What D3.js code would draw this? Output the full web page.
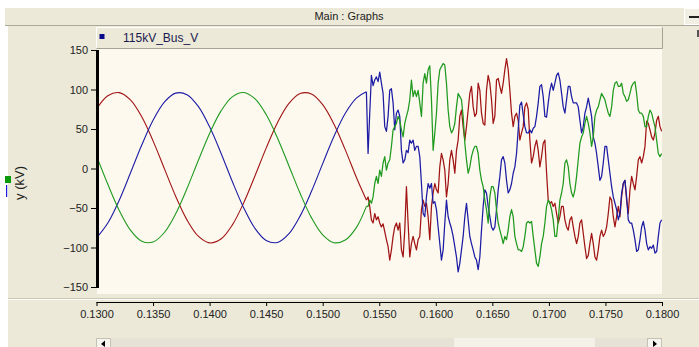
<!DOCTYPE html>
<html><head><meta charset="utf-8">
<script src="https://cdn.jsdelivr.net/npm/d3@7"></script>
<style>
html,body{margin:0;padding:0;background:#fff;overflow:hidden;}
svg{display:block;}
text{font-family:"Liberation Sans",Arial,sans-serif;}
</style></head><body>
<svg id="c" width="699" height="347"></svg>
<script>
// ---------- DATA ----------
const xTicks = [0.130,0.135,0.140,0.145,0.150,0.155,0.160,0.165,0.170,0.175,0.180];
const yTicks = [-150,-100,-50,0,50,100,150];
const seriesNames = ["Phase A","Phase B","Phase C"];
const legendLabel = "115kV_Bus_V";

// steady-state part, sampled every 1 ms from 0.130 s
const sineT0 = 0.130, sineDt = 0.001;
const sineRed   = [75.2,92.0,96.0,86.8,65.4,35.0,-0.2,-35.1,-65.0,-85.7,-94.2,-89.3,-71.7,-43.9,-9.8,25.8,58.0,82.1,94.9,94.4,80.9,56.1,23.6,-12.1];
const sineBlue  = [-87.9,-69.0,-40.4,-5.8,29.7,61.1,84.1,95.4,93.5,78.6,52.7,19.7,-16.1,-49.3,-75.6,-91.1,-93.6,-82.9,-60.3,-29.2,6.2,40.8,69.9,89.3];
const sineGreen = [15.8,-20.0,-52.7,-77.9,-92.0,-93.1,-81.0,-57.3,-25.4,10.1,44.4,72.6,90.7,96.2,88.4,68.3,38.7,3.9,-31.4,-62.2,-84.0,-93.9,-90.5,-74.2];

// disturbed part, read every ~0.1475 ms from 0.15386 s
const distT0 = 0.153864, distDt = 0.00014749;
const distBlue = [97,19,70,118,105,112,116,110,122,108,95,53,47,66,99,101,83,49,70,74,66,23,7,11,23,20,36,32,36,23,28,28,15,-19,-57,-61,-36,-19,-25,-19,-44,-42,-52,-74,-95,-116,-103,-69,-40,-61,-69,-76,-86,-99,-112,-131,-120,-103,-86,-61,-44,-65,-86,-95,-103,-112,-116,-128,-112,-78,-48,-27,-31,-48,-61,-74,-78,-74,-52,-27,-10,11,15,7,-15,-31,-27,-19,-6,2,19,49,80,84,68,53,45,45,49,45,51,53,66,83,104,106,91,66,65,83,99,108,99,108,118,121,112,95,78,70,87,104,104,91,83,83,83,78,61,45,53,70,78,89,78,66,40,32,19,2,-15,-10,7,28,28,11,-6,-23,-36,-44,-52,-65,-57,-31,-19,-15,-36,-65,-69,-69,-78,-90,-105,-103,-90,-74,-67,-78,-95,-103,-99,-101,-97,-107,-105,-86,-69,-65];
const distRed = [-40,-36,-48,-65,-69,-57,-65,-61,-69,-74,-70,-80,-90,-99,-116,-103,-86,-74,-69,-78,-69,-103,-112,-78,-23,-69,-112,-95,-86,-95,-103,-90,-86,-52,-40,-48,-44,-61,-90,-48,-31,-19,-27,-31,2,19,11,-2,-36,-19,11,23,11,-6,23,36,66,74,53,36,53,74,95,104,78,66,70,108,99,70,57,55,99,118,108,87,57,66,112,114,104,95,108,125,139,125,99,70,53,66,70,61,36,45,53,78,83,75,36,7,15,28,36,23,2,15,32,36,-5,-40,-44,-42,-48,-44,-57,-69,-61,-48,-48,-65,-74,-78,-65,-61,-74,-86,-95,-86,-69,-65,-82,-99,-114,-110,-95,-82,-95,-112,-116,-103,-86,-78,-86,-82,-74,-57,-36,-40,-61,-74,-61,-48,-61,-36,-19,-15,-40,-57,-27,-10,-19,-27,-10,11,15,7,15,28,60,57,49,40,36,45,61,66,53,47];
const distGreen = [-48,-48,-40,-44,-36,-19,-10,-19,-2,-10,7,15,-2,7,11,28,49,53,57,66,61,49,40,57,66,74,87,112,91,99,91,99,83,66,108,120,108,125,130,87,23,45,70,108,125,129,133,131,108,74,53,45,49,57,78,95,91,87,66,32,11,-6,2,15,23,28,28,19,-2,-15,-23,-40,-52,-69,-36,-23,-23,-31,-52,-69,-78,-86,-95,-86,-90,-78,-61,-52,-61,-86,-95,-103,-103,-105,-99,-86,-69,-67,-69,-67,-86,-103,-120,-124,-112,-95,-86,-69,-48,-40,-44,-52,-65,-86,-86,-65,-40,-31,-19,7,11,2,-19,-31,-36,-27,-10,11,32,40,45,57,66,57,45,28,40,66,74,78,87,95,91,87,78,70,66,78,99,108,110,104,104,108,95,91,85,87,95,104,108,110,95,74,70,70,66,53,53,66,74,70,61,53,36,19,15,19];

const colors = ["#a01414","#1c1ca4","#1f9a1f"];

// ---------- BUILD ----------
function build(sine, dist){
  const smooth = sine.map((v,i)=>({t: sineT0 + i*sineDt, v}));
  smooth.push({t: distT0, v: dist[0]});
  const rough = dist.map((v,i)=>({t: distT0 + i*distDt, v}));
  return {smooth, rough};
}
const series = [build(sineRed,distRed), build(sineBlue,distBlue), build(sineGreen,distGreen)];

const svg = d3.select("#c");
const BEIGE = "#ece9d8";

// window frame
svg.append("rect").attr("x",0).attr("y",0).attr("width",699).attr("height",347).attr("fill","#fff");
svg.append("rect").attr("x",5).attr("y",8).attr("width",694).attr("height",18).attr("fill",BEIGE);
svg.append("line").attr("x1",5).attr("x2",699).attr("y1",25.5).attr("y2",25.5).attr("stroke","#aca899");
svg.append("rect").attr("x",8).attr("y",26).attr("width",691).attr("height",321).attr("fill",BEIGE);
svg.append("text").attr("x",349).attr("y",20).attr("text-anchor","middle").attr("font-size",11).attr("fill","#222").text("Main : Graphs");
// minimise button
svg.append("rect").attr("x",684.5).attr("y",8.5).attr("width",16).attr("height",16).attr("fill","#f1efe4").attr("stroke","#fff");
svg.append("rect").attr("x",689).attr("y",16).attr("width",10).attr("height",2).attr("fill","#222");
svg.append("rect").attr("x",697).attr("y",30).attr("width",3).attr("height",7).attr("fill","#555");

const x = d3.scaleLinear().domain([0.13,0.18]).range([96.5,662]);
const y = d3.scaleLinear().domain([-150,150]).range([287,50]);

// plot background
svg.append("rect").attr("x",97).attr("y",48).attr("width",565).attr("height",246).attr("fill","#fdf9ef");

// legend bar
const lg = svg.append("g");
lg.append("rect").attr("x",96).attr("y",27).attr("width",566).attr("height",21).attr("fill",BEIGE);
lg.append("path").attr("d","M96.5,47.5 V27.5 H661.5").attr("fill","none").attr("stroke","#fff");
lg.append("path").attr("d","M96.5,48.5 H662.5 V27.5").attr("fill","none").attr("stroke","#a6a394");
lg.append("rect").attr("x",99.5).attr("y",34).attr("width",5).attr("height",5).attr("fill","#0a0a8a");
lg.append("text").attr("x",123).attr("y",42).attr("font-size",12).attr("fill","#1a1a50").text(legendLabel);

// separator above x axis
svg.append("line").attr("x1",8).attr("x2",699).attr("y1",298.5).attr("y2",298.5).attr("stroke","#c9c6b6");
svg.append("line").attr("x1",8).attr("x2",699).attr("y1",299.5).attr("y2",299.5).attr("stroke","#fff");

// clip
svg.append("clipPath").attr("id","clip").append("rect").attr("x",97).attr("y",48).attr("width",565).attr("height",246);

const smoothLine = d3.line().x(d=>x(d.t)).y(d=>y(d.v)).curve(d3.curveCatmullRom.alpha(0.5));
const roughLine = d3.line().x(d=>x(d.t)).y(d=>y(d.v));
const lines = svg.append("g").attr("clip-path","url(#clip)");
series.forEach((s,i)=>{
  const g = lines.append("g").attr("data-name",seriesNames[i]);
  g.append("path").datum(s.smooth).attr("d",smoothLine).attr("fill","none")
    .attr("stroke",colors[i]).attr("stroke-width",1.1);
  g.append("path").datum(s.rough).attr("d",roughLine).attr("fill","none")
    .attr("stroke",colors[i]).attr("stroke-width",1.25).attr("stroke-linejoin","round");
});

// y axis
const yAxis = svg.append("g").attr("transform","translate(96,0)")
  .call(d3.axisLeft(y).tickValues(yTicks).tickSize(5).tickPadding(3).tickFormat(d3.format("d")));
yAxis.select(".domain").remove();
yAxis.selectAll("text").attr("font-size",11).attr("fill","#222").attr("font-family","Liberation Sans, Arial, sans-serif");
yAxis.selectAll("line").attr("stroke","#000");
svg.append("rect").attr("x",96).attr("y",50).attr("width",3).attr("height",238).attr("fill","#000");

// x axis
const xAxis = svg.append("g").attr("transform","translate(0,302)")
  .call(d3.axisBottom(x).tickValues(xTicks).tickSize(4).tickPadding(4).tickFormat(d3.format(".4f")));
xAxis.select(".domain").attr("d","M96.5,0.5H662.5").attr("stroke","#000");
xAxis.selectAll("text").attr("font-size",11).attr("fill","#222").attr("font-family","Liberation Sans, Arial, sans-serif");
xAxis.selectAll("line").attr("stroke","#000");

// y label and markers
svg.append("text").attr("transform","translate(24,183) rotate(-90)").attr("text-anchor","middle")
  .attr("font-size",13).attr("fill","#222").text("y (kV)");
svg.append("rect").attr("x",5).attr("y",176).attr("width",6).attr("height",7).attr("fill","#0a9a0a");
svg.append("rect").attr("x",6).attr("y",185).attr("width",1.2).attr("height",12).attr("fill","#1a1ae0");

// scrollbar
const sb = svg.append("g");
sb.append("rect").attr("x",96).attr("y",338).attr("width",566).attr("height",9).attr("fill","#f3f1e8");
sb.append("rect").attr("x",111).attr("y",338).attr("width",343).attr("height",9).attr("fill","#e6e3d6");
sb.append("rect").attr("x",595).attr("y",338).attr("width",53).attr("height",9).attr("fill","#e6e3d6");
sb.append("rect").attr("x",96.5).attr("y",338.5).attr("width",14).attr("height",10).attr("fill","#f5f4ee").attr("stroke","#c5c2b2");
sb.append("rect").attr("x",647.5).attr("y",338.5).attr("width",14).attr("height",10).attr("fill","#f5f4ee").attr("stroke","#c5c2b2");
sb.append("path").attr("d","M101,344 L105,340.5 L105,347 Z").attr("fill","#000");
sb.append("path").attr("d","M657,344 L653,340.5 L653,347 Z").attr("fill","#000");
</script></body></html>
